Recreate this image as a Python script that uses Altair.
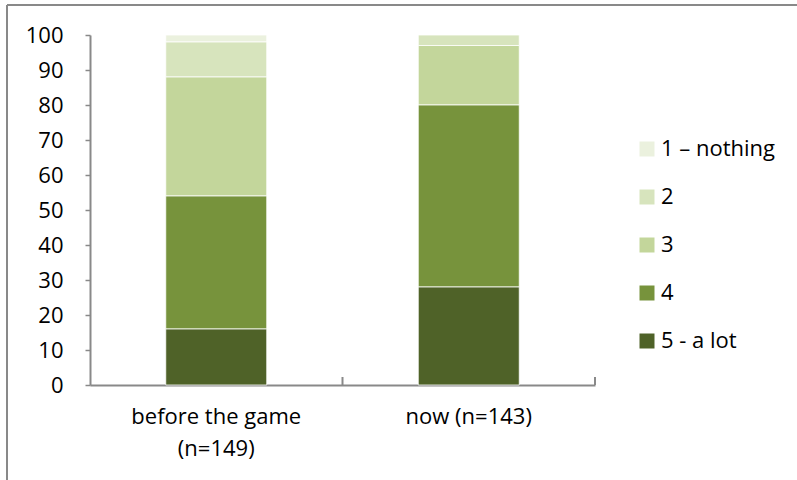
import altair as alt
import pandas as pd

categories = ["before the game|(n=149)", "now (n=143)"]
levels = ["1 – nothing", "2", "3", "4", "5 - a lot"]
colors = ["#EBF1DE", "#D7E4BD", "#C3D69B", "#77933C", "#4F6228"]
before = [2, 10, 34, 38, 16]
now = [0, 3, 17, 52, 28]

rows = []
for cat, vals in zip(categories, [before, now]):
    for i, (lvl, v) in enumerate(zip(levels, vals)):
        rows.append({"cat": cat, "level": lvl, "value": v, "rank": len(levels) - i})
df = pd.DataFrame(rows)

FONT = "Open Sans"
FS = 22
W, H = 505, 350

bars = alt.Chart(df).mark_bar(size=101, stroke="#ffffff", strokeWidth=0.8).encode(
    x=alt.X("cat:N", sort=categories, title=None,
            scale=alt.Scale(paddingInner=0, paddingOuter=0),
            axis=alt.Axis(labelExpr="split(datum.label, '|')", labelAngle=0,
                          labelFontSize=FS, labelFont=FONT, labelColor="#000000",
                          labelLineHeight=32, labelPadding=21, ticks=False,
                          domainColor="#898989", domainWidth=2)),
    y=alt.Y("value:Q", stack="zero", title=None,
            scale=alt.Scale(domain=[0, 100], nice=False),
            axis=alt.Axis(values=list(range(0, 101, 10)), grid=False,
                          labelFontSize=FS, labelFont=FONT, labelColor="#000000",
                          labelPadding=22, tickSize=5, tickColor="#898989", tickWidth=1.5,
                          domainColor="#898989", domainWidth=2)),
    color=alt.Color("level:N", sort=levels,
                    scale=alt.Scale(domain=levels, range=colors),
                    legend=alt.Legend(title=None, orient="none", legendX=546, legendY=103,
                                      symbolType="square", symbolSize=225,
                                      symbolStrokeWidth=0, labelFontSize=FS,
                                      labelFont=FONT, labelColor="#000000",
                                      rowPadding=26, labelOffset=3, padding=0)),
    order=alt.Order("rank:Q", sort="ascending"),
)

tick_data = pd.DataFrame({"cat": [categories[1]]})
tick_mid = alt.Chart(tick_data).mark_rule(color="#898989", strokeWidth=2).encode(
    x=alt.X("cat:N", sort=categories, bandPosition=0),
    y=alt.value(H - 8), y2=alt.value(H),
)
tick_end = alt.Chart(tick_data).mark_rule(color="#898989", strokeWidth=2).encode(
    x=alt.X("cat:N", sort=categories, bandPosition=1),
    y=alt.value(H - 8), y2=alt.value(H),
)

frame_left = alt.Chart(tick_data).mark_rule(color="#898989", strokeWidth=2).encode(
    x=alt.value(-83), y=alt.value(-30), y2=alt.value(H + 95),
)
frame_top = alt.Chart(tick_data).mark_rule(color="#898989", strokeWidth=2).encode(
    x=alt.value(-83), x2=alt.value(707), y=alt.value(-30),
)

chart = alt.layer(bars, tick_mid, tick_end, frame_left, frame_top).properties(
    width=W, height=H,
    autosize=alt.AutoSizeParams(type="none"),
    padding={"left": 90, "top": 35, "right": 202, "bottom": 95},
    background="#ffffff",
).configure_view(stroke=None)

chart.save("out.html", embed_options={"renderer": "svg", "actions": False})
